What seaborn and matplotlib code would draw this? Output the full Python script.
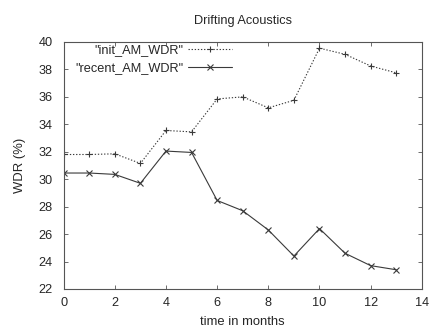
import matplotlib
matplotlib.use("Agg")
import matplotlib.pyplot as plt
import pandas as pd
import seaborn as sns

months = list(range(14))
init_am_wdr = [31.8, 31.8, 31.85, 31.15, 33.55, 33.45, 35.85, 36.0, 35.2, 35.75, 39.55, 39.1, 38.25, 37.75]
recent_am_wdr = [30.45, 30.45, 30.35, 29.7, 32.05, 31.95, 28.45, 27.7, 26.3, 24.4, 26.4, 24.6, 23.7, 23.4]
series_names = ['"init_AM_WDR"', '"recent_AM_WDR"']


def main() -> None:
	sns.set_style("ticks", {"xtick.direction": "in", "ytick.direction": "in"})
	plt.rcParams["font.family"] = ["Liberation Sans", "DejaVu Sans"]

	df = pd.DataFrame({"month": months, "init": init_am_wdr, "recent": recent_am_wdr})

	fig = plt.figure(figsize=(4.3, 3.28), dpi=100)
	ax = fig.add_axes([0.148, 0.119, 0.833, 0.753])

	line_color = "#3a3a3a"
	sns.lineplot(data=df, x="month", y="init", ax=ax, label=series_names[0],
		color=line_color, linewidth=0.8, linestyle=(0, (1.2, 1.6)),
		marker="+", markersize=5, markeredgewidth=0.8, markeredgecolor=line_color)
	sns.lineplot(data=df, x="month", y="recent", ax=ax, label=series_names[1],
		color=line_color, linewidth=0.8, linestyle="-",
		marker="x", markersize=4, markeredgewidth=0.8, markeredgecolor=line_color)

	ax.set_xlim(0, 14)
	ax.set_ylim(22, 40)
	ax.set_xticks(range(0, 15, 2))
	ax.set_yticks(range(22, 41, 2))
	ax.tick_params(axis="both", which="both", direction="in", top=True, right=True,
		length=3, width=0.6, labelsize=9.2, color="#555555")
	ax.tick_params(axis="x", pad=6)
	ax.tick_params(axis="y", pad=8)
	for spine in ax.spines.values():
		spine.set_visible(True)
		spine.set_color("#555555")
		spine.set_linewidth(0.8)

	ax.set_xlabel("time in months", fontsize=9.4, labelpad=5)
	ax.set_ylabel("WDR (%)", fontsize=9.4, labelpad=9)
	ax.set_title("Drifting Acoustics", fontsize=9.2, pad=13)

	ax.legend(loc="upper right", bbox_to_anchor=(233 / 430, 1 - 43 / 328),
		bbox_transform=fig.transFigure, frameon=False, markerfirst=False,
		fontsize=9.2, handlelength=3.4, handletextpad=0.4, labelspacing=0.45,
		borderpad=0.1, borderaxespad=0)

	fig.savefig("out.png", dpi=100)
	plt.close(fig)


if __name__ == "__main__":
	main()
